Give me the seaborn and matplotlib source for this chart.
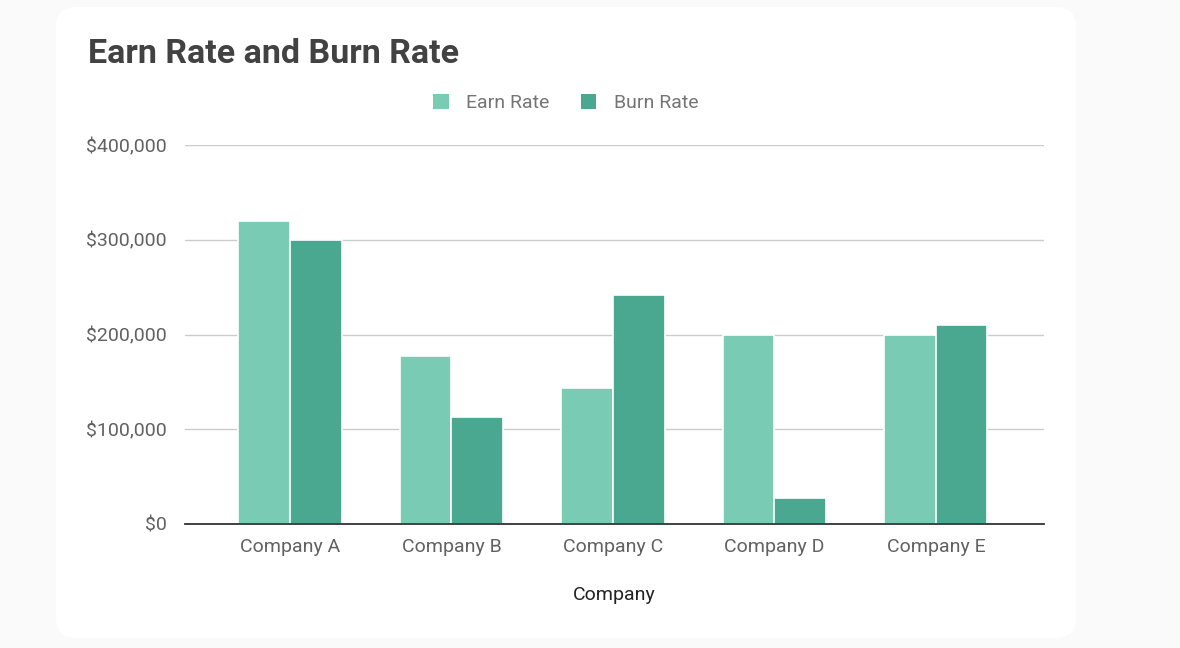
import matplotlib
matplotlib.use("Agg")
import matplotlib.pyplot as plt
from matplotlib.patches import FancyBboxPatch
from matplotlib.ticker import FuncFormatter, MultipleLocator
import seaborn as sns
import pandas as pd

companies = ["Company A", "Company B", "Company C", "Company D", "Company E"]
earn_rate = [320000, 177000, 143500, 200000, 200000]
burn_rate = [300000, 113000, 242000, 27000, 210000]
series_names = ["Earn Rate", "Burn Rate"]
colors = ["#79CCB3", "#4AA891"]

df = pd.DataFrame({
    "Company": companies * 2,
    "Value": earn_rate + burn_rate,
    "Series": [series_names[0]] * len(companies) + [series_names[1]] * len(companies),
})

sns.set_theme(style="white")
plt.rcParams["font.family"] = ["Roboto", "DejaVu Sans"]

fig = plt.figure(figsize=(11.8, 6.48), dpi=100)
fig.patch.set_facecolor("#fafafa")

card = FancyBboxPatch((0.56, 0.10), 10.20, 6.31,
                      boxstyle="round,pad=0,rounding_size=0.2",
                      transform=fig.dpi_scale_trans,
                      facecolor="white", edgecolor="none", zorder=-10)
fig.patches.append(card)

ax = fig.add_axes([185/1180, (648-524)/648, (1044-185)/1180, (524-145)/648])
ax.set_zorder(1)
ax.set_facecolor("none")
ax.patch.set_alpha(0)

sns.barplot(data=df, x="Company", y="Value", hue="Series", palette=colors,
            width=0.64, edgecolor="white", linewidth=1.2, ax=ax,
            saturation=1, legend=True, zorder=3)

ax.set_ylim(0, 400000)
ax.set_xlim(-0.65, 4.67)
ax.yaxis.set_major_locator(MultipleLocator(100000))
ax.yaxis.set_major_formatter(FuncFormatter(lambda v, p: f"${v:,.0f}"))
ax.grid(axis="y", color="#cccccc", linewidth=1, zorder=0)
ax.set_axisbelow(True)
for s in ["top", "right", "left"]:
    ax.spines[s].set_visible(False)
ax.spines["bottom"].set_color("#333333")
ax.spines["bottom"].set_linewidth(1.3)
ax.spines["bottom"].set_zorder(5)
ax.tick_params(axis="y", length=0, pad=13, labelsize=14, labelcolor="#616161")
ax.tick_params(axis="x", length=0, pad=10, labelsize=14, labelcolor="#616161")
ax.set_ylabel("")
ax.set_xlabel("Company", fontsize=14, color="#222222", labelpad=22)

ax.get_legend().remove()
handles = [plt.Rectangle((0, 0), 1, 1, facecolor=c, edgecolor="none") for c in colors]
fig.legend(handles, series_names, loc="center", bbox_to_anchor=(566/1180, 1 - 103/648),
           ncol=2, frameon=False, fontsize=14, labelcolor="#757575",
           handlelength=0.8, handleheight=0.8, handletextpad=0.9, columnspacing=1.6)

fig.text(88/1180, 1 - 54/648, "Earn Rate and Burn Rate", fontsize=24.5, fontweight="bold",
         color="#424242", ha="left", va="center")

fig.savefig("out.png", dpi=100, facecolor=fig.get_facecolor())
